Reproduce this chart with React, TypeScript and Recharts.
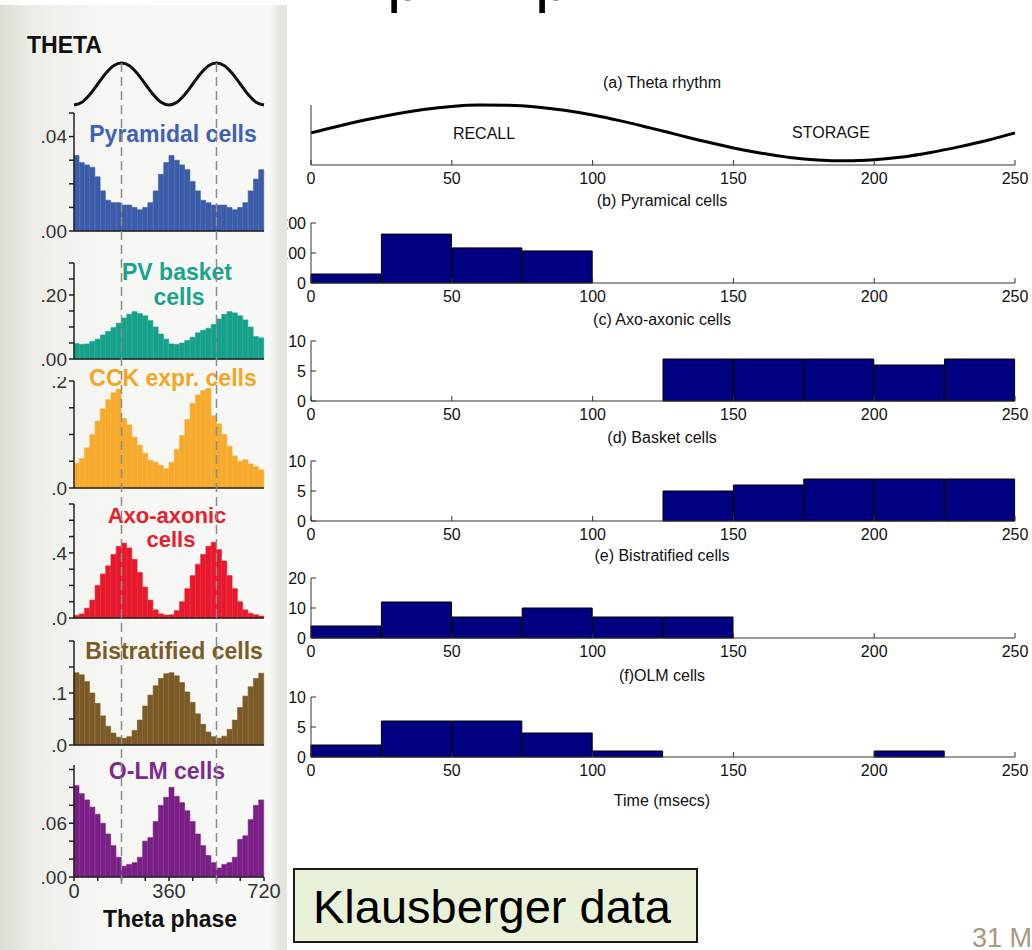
import React from 'react';
import { BarChart, Bar, LineChart, Line, XAxis, YAxis, ReferenceLine } from 'recharts';

const SANS = "'Liberation Sans', Arial, Helvetica, sans-serif";

// ======================
// LEFT PANEL DATA (firing probability vs theta phase, 20 deg bins, two cycles)
// ======================
const PHASE_BINS = [
  0, 20, 40, 60, 80, 100, 120, 140, 160, 180, 200, 220, 240, 260, 280, 300, 320, 340,
  360, 380, 400, 420, 440, 460, 480, 500, 520, 540, 560, 580, 600, 620, 640, 660, 680, 700,
];
const PHASE_TICKS = [0, 90, 180, 270, 360, 450, 540, 630, 720];
const PHASE_LABELS = [0, 360, 720];
const PEAK_PHASES = [180, 540];

const THETA_PHASE = [0, 30, 60, 90, 120, 150, 180, 210, 240, 270, 300, 330, 360, 390, 420, 450, 480, 510, 540, 570, 600, 630, 660, 690, 720];
const THETA_WAVE = [-1, -0.87, -0.5, 0, 0.5, 0.87, 1, 0.87, 0.5, 0, -0.5, -0.87, -1, -0.87, -0.5, 0, 0.5, 0.87, 1, 0.87, 0.5, 0, -0.5, -0.87, -1];

const PYRAMIDAL_P = [
  0.032, 0.029, 0.028, 0.027, 0.023, 0.017, 0.013, 0.012, 0.012, 0.011, 0.011, 0.010, 0.009, 0.010, 0.012, 0.017, 0.024, 0.029,
  0.032, 0.030, 0.028, 0.026, 0.021, 0.017, 0.013, 0.012, 0.011, 0.011, 0.011, 0.010, 0.009, 0.010, 0.012, 0.017, 0.022, 0.026,
];
const PV_BASKET_P = [
  0.048, 0.046, 0.047, 0.055, 0.062, 0.075, 0.086, 0.098, 0.112, 0.128, 0.140, 0.148, 0.142, 0.135, 0.120, 0.100, 0.078, 0.062,
  0.047, 0.046, 0.050, 0.058, 0.068, 0.082, 0.090, 0.096, 0.108, 0.125, 0.140, 0.148, 0.144, 0.135, 0.122, 0.100, 0.070, 0.066,
];
const CCK_P = [
  0.046, 0.055, 0.075, 0.100, 0.125, 0.148, 0.165, 0.178, 0.185, 0.130, 0.118, 0.095, 0.080, 0.065, 0.052, 0.048, 0.042, 0.036,
  0.048, 0.072, 0.098, 0.128, 0.158, 0.174, 0.182, 0.186, 0.135, 0.120, 0.100, 0.078, 0.060, 0.050, 0.053, 0.045, 0.040, 0.034,
];
const AXO_AXONIC_P = [
  0.015, 0.025, 0.060, 0.110, 0.200, 0.270, 0.320, 0.390, 0.440, 0.460, 0.430, 0.360, 0.280, 0.190, 0.110, 0.050, 0.025, 0.018,
  0.020, 0.045, 0.100, 0.180, 0.260, 0.330, 0.390, 0.440, 0.465, 0.420, 0.350, 0.260, 0.180, 0.100, 0.050, 0.028, 0.020, 0.012,
];
const BISTRATIFIED_P = [
  0.139, 0.135, 0.122, 0.100, 0.080, 0.056, 0.036, 0.023, 0.015, 0.013, 0.016, 0.028, 0.048, 0.075, 0.096, 0.114, 0.128, 0.137,
  0.139, 0.133, 0.120, 0.102, 0.082, 0.060, 0.040, 0.025, 0.016, 0.013, 0.017, 0.030, 0.048, 0.072, 0.094, 0.112, 0.128, 0.138,
];
const OLM_P = [
  0.102, 0.093, 0.086, 0.078, 0.070, 0.060, 0.048, 0.035, 0.022, 0.012, 0.014, 0.016, 0.022, 0.040, 0.044, 0.062, 0.080, 0.089,
  0.100, 0.090, 0.083, 0.074, 0.062, 0.048, 0.035, 0.024, 0.016, 0.010, 0.014, 0.016, 0.022, 0.042, 0.046, 0.064, 0.080, 0.086,
];

// ======================
// RIGHT PANEL DATA (spike counts in 25 ms bins)
// ======================
const TIME_BINS = [0, 25, 50, 75, 100, 125, 150, 175, 200, 225];
const TIME_TICKS = [0, 50, 100, 150, 200, 250];
const PYRAMIDAL_COUNTS = [30, 163, 117, 107, 0, 0, 0, 0, 0, 0];
const AXO_AXONIC_COUNTS = [0, 0, 0, 0, 0, 7, 7, 7, 6, 7];
const BASKET_COUNTS = [0, 0, 0, 0, 0, 5, 6, 7, 7, 7];
const BISTRATIFIED_COUNTS = [4, 12, 7, 10, 7, 7, 0, 0, 0, 0];
const OLM_COUNTS = [2, 6, 6, 4, 1, 0, 0, 0, 1, 0];

const THETA_T = [0, 10, 20, 30, 40, 50, 60, 70, 80, 90, 100, 110, 120, 130, 140, 150, 160, 170, 180, 190, 200, 210, 220, 230, 240, 250];
const THETA_RHYTHM = [0, 0.25, 0.48, 0.68, 0.84, 0.95, 1.0, 0.99, 0.93, 0.81, 0.64, 0.43, 0.19, -0.06, -0.31, -0.54, -0.73, -0.88, -0.97, -1.0, -0.96, -0.86, -0.7, -0.5, -0.27, 0];

// ======================
// SMALL TEXT HELPER
// ======================
function Txt({ x, y, children, size = 16, weight = 400, color = '#111', align = 'center', z = 3 }: any) {
  const tx = align === 'center' ? '-50%' : align === 'right' ? '-100%' : '0';
  return (
    <div
      style={{
        position: 'absolute', left: x, top: y, transform: `translate(${tx}, -50%)`,
        fontFamily: SANS, fontSize: size, fontWeight: weight, color, lineHeight: 1,
        whiteSpace: 'nowrap', zIndex: z, textAlign: 'center',
      }}
    >
      {children}
    </div>
  );
}

// ======================
// LEFT: PHASE HISTOGRAM
// ======================
function PhaseHist({ values, color, top, bottom, max, ticks, labels, digits, showX }: any) {
  const data = PHASE_BINS.map((b, i) => ({ bin: b, p: values[i] }));
  const mt = 4;
  const xh = showX ? 34 : 8;
  const fmtY = (v: number) =>
    labels.some((l: number) => Math.abs(l - v) < 1e-9) ? v.toFixed(digits).replace(/^0/, '') : '';
  return (
    <div style={{ position: 'absolute', left: 14, top: top - mt, zIndex: 2 }}>
      <BarChart
        width={272}
        height={bottom - top + mt + xh}
        data={data}
        margin={{ top: mt, right: 22, bottom: 0, left: 0 }}
        barCategoryGap={0}
        barGap={0}
      >
        <XAxis xAxisId="bins" dataKey="bin" hide height={0} />
        <XAxis
          xAxisId="deg"
          dataKey="bin"
          type="number"
          scale="linear"
          domain={[0, 720]}
          ticks={PHASE_TICKS}
          interval={0}
          height={xh}
          stroke="#222"
          strokeWidth={1.5}
          tickSize={4}
          tickMargin={3}
          tick={showX ? { fill: '#333', fontSize: 20, fontFamily: SANS } : false}
          tickFormatter={(v: number) => (PHASE_LABELS.includes(v) ? String(v) : '')}
        />
        <YAxis
          type="number"
          domain={[0, max]}
          ticks={ticks}
          width={60}
          stroke="#222"
          strokeWidth={1.5}
          tickSize={5}
          tickMargin={2}
          interval={0}
          tick={{ fill: '#333', fontSize: 19, fontFamily: SANS }}
          tickFormatter={fmtY}
        />
        <Bar xAxisId="bins" dataKey="p" fill={color} stroke={color} strokeWidth={0.6} isAnimationActive={false} />
      </BarChart>
    </div>
  );
}

// ======================
// RIGHT: TIME HISTOGRAM
// ======================
function TimeHist({ counts, yMax, yTicks, top }: any) {
  const data = TIME_BINS.map((b, i) => ({ bin: b, n: counts[i] }));
  return (
    <div style={{ position: 'absolute', left: 260, top: top - 10, zIndex: 1 }}>
      <BarChart
        width={770}
        height={100}
        data={data}
        margin={{ top: 10, right: 15, bottom: 0, left: 0 }}
        barCategoryGap={0}
        barGap={0}
      >
        <XAxis xAxisId="bins" dataKey="bin" hide height={0} />
        <XAxis
          xAxisId="ms"
          dataKey="bin"
          type="number"
          scale="linear"
          domain={[0, 250]}
          ticks={TIME_TICKS}
          interval={0}
          height={30}
          stroke="#333"
          tickSize={-5}
          tickMargin={13}
          tick={{ fill: '#111', fontSize: 16, fontFamily: SANS }}
        />
        <YAxis
          type="number"
          domain={[0, yMax]}
          ticks={yTicks}
          width={51}
          stroke="#333"
          tickSize={-5}
          tickMargin={10}
          interval={0}
          tick={{ fill: '#111', fontSize: 16, fontFamily: SANS }}
        />
        <Bar xAxisId="bins" dataKey="n" fill="#000080" stroke="#000" strokeWidth={1} isAnimationActive={false} />
      </BarChart>
    </div>
  );
}

function ThetaRhythm({ top }: { top: number }) {
  const data = THETA_T.map((t, i) => ({ t, v: THETA_RHYTHM[i] }));
  return (
    <div style={{ position: 'absolute', left: 260, top: top - 10, zIndex: 1 }}>
      <LineChart width={770} height={100} data={data} margin={{ top: 10, right: 15, bottom: 0, left: 0 }}>
        <XAxis
          dataKey="t"
          type="number"
          domain={[0, 250]}
          ticks={TIME_TICKS}
          interval={0}
          height={30}
          stroke="#333"
          tickSize={-5}
          tickMargin={13}
          tick={{ fill: '#111', fontSize: 16, fontFamily: SANS }}
        />
        <YAxis type="number" domain={[-1.15, 1]} ticks={[-1, 1]} width={51} stroke="#333" tickSize={-5} tick={false} />
        <Line type="monotone" dataKey="v" stroke="#000" strokeWidth={3} dot={false} isAnimationActive={false} />
      </LineChart>
    </div>
  );
}

export default function App() {
  const thetaData = THETA_PHASE.map((p, i) => ({ phase: p, v: THETA_WAVE[i] }));

  const leftPanels = [
    { values: PYRAMIDAL_P, color: '#3b5ca9', top: 113, bottom: 231, max: 0.05, ticks: [0, 0.01, 0.02, 0.03, 0.04, 0.05], labels: [0, 0.04], digits: 2 },
    { values: PV_BASKET_P, color: '#16a18b', top: 263, bottom: 359, max: 0.3, ticks: [0, 0.05, 0.1, 0.15, 0.2, 0.25, 0.3], labels: [0, 0.2], digits: 2 },
    { values: CCK_P, color: '#f6ab2c', top: 381, bottom: 488, max: 0.2, ticks: [0, 0.05, 0.1, 0.15, 0.2], labels: [0, 0.2], digits: 1 },
    { values: AXO_AXONIC_P, color: '#e8192c', top: 504, bottom: 618, max: 0.7, ticks: [0, 0.1, 0.2, 0.3, 0.4, 0.5, 0.6, 0.7], labels: [0, 0.4], digits: 1 },
    { values: BISTRATIFIED_P, color: '#7c5a26', top: 641, bottom: 745, max: 0.2, ticks: [0, 0.05, 0.1, 0.15, 0.2], labels: [0, 0.1], digits: 1 },
    { values: OLM_P, color: '#7a1f86', top: 765, bottom: 877, max: 0.125, ticks: [0, 0.02, 0.04, 0.06, 0.08, 0.1, 0.12], labels: [0, 0.06], digits: 2, showX: true },
  ];

  return (
    <div style={{ position: 'absolute', left: 0, top: 0, width: 1032, height: 950, overflow: 'hidden', background: '#fff', fontFamily: SANS }}>
      {/* cut-off slide title */}
      <svg width={1032} height={20} style={{ position: 'absolute', left: 0, top: 0 }}>
        <text x={387} y={0} fontSize={64} fontFamily={SANS} fill="#000">p</text>
        <text x={535} y={0} fontSize={64} fontFamily={SANS} fill="#000">p</text>
      </svg>

      {/* LEFT PANEL */}
      <div
        style={{
          position: 'absolute', left: 0, top: 0, width: 287, height: 950, zIndex: 2,
          background:
            'linear-gradient(to bottom, #fff 0, #fff 5px, transparent 5px), linear-gradient(to right, #dcdcd5 0%, #ecece7 10%, #f6f6f3 35%, #f8f8f6 94%, #e6e6e1 97%, #e4e4de 100%)',
        }}
      >
        <Txt x={27} y={45} size={23} weight={700} align="left">THETA</Txt>
        <div style={{ position: 'absolute', left: 14, top: 59, zIndex: 2 }}>
          <LineChart width={256} height={50} data={thetaData} margin={{ top: 4, right: 6, bottom: 4, left: 60 }}>
            <XAxis dataKey="phase" type="number" domain={[0, 720]} hide height={0} />
            <YAxis type="number" domain={[-1, 1]} hide width={0} />
            <Line type="monotone" dataKey="v" stroke="#111" strokeWidth={3} dot={false} isAnimationActive={false} />
          </LineChart>
        </div>

        {leftPanels.map((p, i) => (
          <PhaseHist key={i} {...p} />
        ))}

        <Txt x={173} y={134} size={23} weight={700} color="#3f62b5">Pyramidal cells</Txt>
        <Txt x={177} y={272} size={23} weight={700} color="#17a38c">PV basket</Txt>
        <Txt x={179} y={297} size={23} weight={700} color="#17a38c">cells</Txt>
        <Txt x={173} y={378} size={23} weight={700} color="#f4a623">CCK expr. cells</Txt>
        <Txt x={167} y={516} size={22} weight={700} color="#e8202d">Axo-axonic</Txt>
        <Txt x={171} y={540} size={22} weight={700} color="#e8202d">cells</Txt>
        <Txt x={174} y={651} size={23} weight={700} color="#7b5b27">Bistratified cells</Txt>
        <Txt x={167} y={771} size={23} weight={700} color="#7d2b8b">O-LM cells</Txt>
        <Txt x={170} y={919} size={23} weight={700}>Theta phase</Txt>

        {/* dashed theta-peak markers over all histograms */}
        <div style={{ position: 'absolute', left: 14, top: 63, zIndex: 4, pointerEvents: 'none' }}>
          <LineChart width={256} height={821} data={thetaData} margin={{ top: 0, right: 6, bottom: 0, left: 60 }}>
            <XAxis dataKey="phase" type="number" domain={[0, 720]} hide height={0} />
            <YAxis type="number" domain={[-1, 1]} hide width={0} />
            <Line dataKey="v" stroke="none" dot={false} isAnimationActive={false} />
            {PEAK_PHASES.map((ph) => (
              <ReferenceLine key={ph} x={ph} stroke="#8c8c8c" strokeWidth={1.5} strokeDasharray="9 5" />
            ))}
          </LineChart>
        </div>
      </div>

      {/* RIGHT PANEL */}
      <Txt x={662} y={83} size={16}>(a) Theta rhythm</Txt>
      <ThetaRhythm top={105} />
      <Txt x={484} y={134} size={16}>RECALL</Txt>
      <Txt x={831} y={133} size={16}>STORAGE</Txt>

      <Txt x={662} y={201} size={16}>(b) Pyramical cells</Txt>
      <TimeHist counts={PYRAMIDAL_COUNTS} yMax={200} yTicks={[0, 100, 200]} top={223} />

      <Txt x={662} y={320} size={16}>(c) Axo-axonic cells</Txt>
      <TimeHist counts={AXO_AXONIC_COUNTS} yMax={10} yTicks={[0, 5, 10]} top={341} />

      <Txt x={662} y={438} size={16}>(d) Basket cells</Txt>
      <TimeHist counts={BASKET_COUNTS} yMax={10} yTicks={[0, 5, 10]} top={461} />

      <Txt x={662} y={556} size={16}>(e) Bistratified cells</Txt>
      <TimeHist counts={BISTRATIFIED_COUNTS} yMax={20} yTicks={[0, 10, 20]} top={578} />

      <Txt x={662} y={676} size={16}>(f)OLM cells</Txt>
      <TimeHist counts={OLM_COUNTS} yMax={10} yTicks={[0, 5, 10]} top={697} />

      <Txt x={662} y={801} size={16}>Time (msecs)</Txt>

      {/* caption box */}
      <div
        style={{
          position: 'absolute', left: 293, top: 868, width: 405, height: 75, boxSizing: 'border-box',
          border: '2px solid #1a1a1a', background: '#e9f2d9', zIndex: 3,
        }}
      >
        <div style={{ position: 'absolute', left: 18, top: 13, fontFamily: SANS, fontSize: 47, lineHeight: 1, color: '#000', whiteSpace: 'nowrap' }}>
          Klausberger data
        </div>
      </div>

      <div style={{ position: 'absolute', left: 972, top: 925, fontFamily: SANS, fontSize: 27, lineHeight: 1, color: '#a8997f', whiteSpace: 'nowrap' }}>
        31 May
      </div>
    </div>
  );
}
